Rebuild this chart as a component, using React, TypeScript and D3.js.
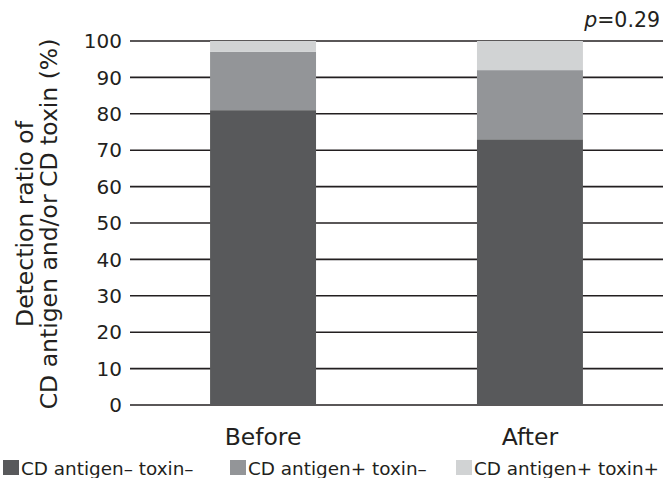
import React, { useEffect, useRef } from 'react';
import * as d3 from 'd3';

const groups = ['Before', 'After'];
const antigenNegToxinNeg = [81, 73];
const antigenPosToxinNeg = [16, 19];
const antigenPosToxinPos = [3, 8];
const seriesNames = ['CD antigen\u2013 toxin\u2013', 'CD antigen+ toxin\u2013', 'CD antigen+ toxin+'];
const seriesColors = ['#58595b', '#939598', '#d1d3d4'];
const yTicks = [0, 10, 20, 30, 40, 50, 60, 70, 80, 90, 100];

const W = 663;
const H = 478;
const FONT = '"DejaVu Sans", Verdana, sans-serif';

export default function App() {
  const svgRef = useRef<SVGSVGElement>(null);

  useEffect(() => {
    const svg = d3.select(svgRef.current);
    svg.selectAll('*').remove();

    const left = 130;
    const right = 663;
    const top = 41;
    const bottom = 405;

    const x = d3.scaleBand().domain(groups).range([left, right]).paddingInner(0.603).paddingOuter(0.3);
    const y = d3.scaleLinear().domain([0, 100]).range([bottom, top]);

    const rows = groups.map((g, i) => ({
      group: g,
      s0: antigenNegToxinNeg[i],
      s1: antigenPosToxinNeg[i],
      s2: antigenPosToxinPos[i],
    }));
    const stack = d3.stack<any>().keys(['s0', 's1', 's2']);
    const layers = stack(rows);

    // gridlines
    svg.append('g')
      .selectAll('line')
      .data(yTicks)
      .join('line')
      .attr('x1', left)
      .attr('x2', right)
      .attr('y1', d => y(d))
      .attr('y2', d => y(d))
      .attr('stroke', '#231f20')
      .attr('stroke-width', 1.6);

    // bars
    svg.append('g')
      .selectAll('g')
      .data(layers)
      .join('g')
      .attr('fill', (d, i) => seriesColors[i])
      .selectAll('rect')
      .data(d => d)
      .join('rect')
      .attr('x', d => x(d.data.group)!)
      .attr('width', x.bandwidth())
      .attr('y', d => y(d[1]))
      .attr('height', d => y(d[0]) - y(d[1]));

    // y tick labels
    svg.append('g')
      .selectAll('text')
      .data(yTicks)
      .join('text')
      .attr('x', 122)
      .attr('y', d => y(d))
      .attr('dy', '0.36em')
      .attr('text-anchor', 'end')
      .attr('font-family', FONT)
      .attr('font-size', 20)
      .attr('fill', '#231f20')
      .text(d => d);

    // x labels
    svg.append('g')
      .selectAll('text')
      .data(groups)
      .join('text')
      .attr('x', d => x(d)! + x.bandwidth() / 2)
      .attr('y', 445)
      .attr('text-anchor', 'middle')
      .attr('font-family', FONT)
      .attr('font-size', 23.5)
      .attr('fill', '#231f20')
      .text(d => d);

    // y title
    const title = svg.append('text')
      .attr('transform', `translate(0,224) rotate(-90)`)
      .attr('text-anchor', 'middle')
      .attr('font-family', FONT)
      .attr('font-size', 23.5)
      .attr('fill', '#231f20');
    title.append('tspan').attr('x', 0).attr('y', 33).text('Detection ratio of');
    title.append('tspan').attr('x', 0).attr('y', 57).text('CD antigen and/or CD toxin (%)');

    // p value
    const p = svg.append('text')
      .attr('x', 660)
      .attr('y', 27)
      .attr('text-anchor', 'end')
      .attr('font-family', FONT)
      .attr('font-size', 20.5)
      .attr('fill', '#231f20');
    p.append('tspan').attr('font-style', 'italic').text('p');
    p.append('tspan').text('=0.29');

    // legend
    const legendX = [3, 230, 456];
    const lg = svg.append('g');
    seriesNames.forEach((name, i) => {
      lg.append('rect')
        .attr('x', legendX[i])
        .attr('y', 460)
        .attr('width', 16)
        .attr('height', 15)
        .attr('fill', seriesColors[i]);
      lg.append('text')
        .attr('x', legendX[i] + 18)
        .attr('y', 475)
        .attr('font-family', FONT)
        .attr('font-size', 18.4)
        .attr('fill', '#231f20')
        .text(name);
    });
  }, []);

  return (
    <svg
      ref={svgRef}
      width={W}
      height={H}
      style={{ position: 'absolute', left: 0, top: 0, background: '#fff' }}
    />
  );
}
